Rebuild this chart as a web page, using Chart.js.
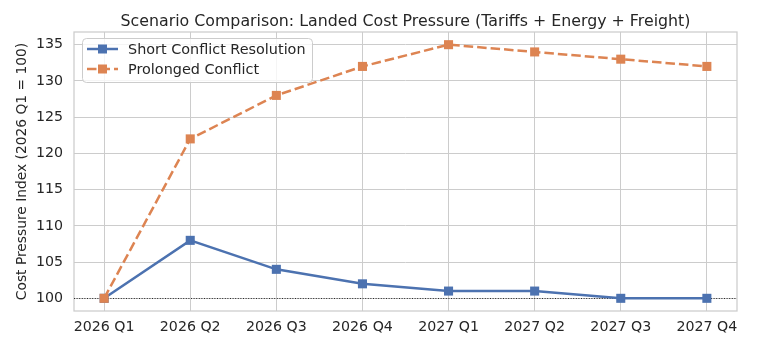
<!DOCTYPE html>
<html>
<head>
<meta charset="utf-8">
<script src="https://cdn.jsdelivr.net/npm/chart.js@4.4.0/dist/chart.umd.min.js"></script>
<style>
  html, body { margin: 0; padding: 0; background: #fff; }
  #wrap { width: 758px; height: 352px; }
</style>
</head>
<body>
<div id="wrap"><canvas id="chart" width="758" height="352"></canvas></div>
<script>
const quarters = ['2026 Q1', '2026 Q2', '2026 Q3', '2026 Q4', '2027 Q1', '2027 Q2', '2027 Q3', '2027 Q4'];
const shortConflict = [100, 108, 104, 102, 101, 101, 100, 100];
const prolongedConflict = [100, 122, 128, 132, 135, 134, 133, 132];
const yTicks = [100, 105, 110, 115, 120, 125, 130, 135];
const baseline = 100;
const chartTitle = 'Scenario Comparison: Landed Cost Pressure (Tariffs + Energy + Freight)';

const BLUE = '#4c72b0';
const ORANGE = '#dd8452';
const FONT = 'DejaVu Sans';
const TEXT = '#262626';

// title centred over the plot area (like matplotlib's ax.set_title)
const titlePlugin = {
  id: 'axTitle',
  afterDraw(chart) {
    const { ctx, chartArea } = chart;
    ctx.save();
    ctx.fillStyle = TEXT;
    ctx.font = '15.8px "' + FONT + '"';
    ctx.textAlign = 'center';
    ctx.textBaseline = 'alphabetic';
    ctx.fillText(chartTitle, (chartArea.left + chartArea.right) / 2, 26);
    ctx.restore();
  }
};

// dotted reference line at the base value + frame round the plot area
const baselinePlugin = {
  id: 'baseline',
  beforeDatasetsDraw(chart) {
    const { ctx, chartArea, scales } = chart;
    ctx.save();
    ctx.strokeStyle = '#cccccc';
    ctx.lineWidth = 1.25;
    ctx.strokeRect(chartArea.left, chartArea.top, chartArea.right - chartArea.left, chartArea.bottom - chartArea.top);

    const y = Math.round(scales.y.getPixelForValue(baseline)) + 0.5;
    ctx.strokeStyle = '#000';
    ctx.lineWidth = 0.8;
    ctx.setLineDash([1, 1.6]);
    ctx.beginPath();
    ctx.moveTo(chartArea.left, y);
    ctx.lineTo(chartArea.right, y);
    ctx.stroke();
    ctx.restore();
  }
};

// matplotlib-like legend box with line + marker samples
const legendPlugin = {
  id: 'boxLegend',
  afterDatasetsDraw(chart) {
    const { ctx, chartArea } = chart;
    const x0 = chartArea.left + 8, y0 = chartArea.top + 6;
    const w = 230, h = 44, r = 4;
    ctx.save();
    ctx.fillStyle = 'rgba(255,255,255,0.8)';
    ctx.strokeStyle = '#cccccc';
    ctx.lineWidth = 1;
    ctx.beginPath();
    ctx.roundRect(x0 + 0.5, y0 + 0.5, w, h, r);
    ctx.fill();
    ctx.stroke();
    chart.data.datasets.forEach((ds, i) => {
      const cy = y0 + 11 + i * 20;
      ctx.strokeStyle = ds.borderColor;
      ctx.lineWidth = 2.5;
      ctx.setLineDash(ds.borderDash || []);
      ctx.beginPath();
      ctx.moveTo(x0 + 5, cy);
      ctx.lineTo(x0 + 36, cy);
      ctx.stroke();
      ctx.setLineDash([]);
      ctx.fillStyle = ds.borderColor;
      ctx.fillRect(x0 + 16, cy - 4.5, 9, 9);
      ctx.fillStyle = TEXT;
      ctx.font = '14.4px "' + FONT + '"';
      ctx.textBaseline = 'middle';
      ctx.fillText(ds.label, x0 + 46, cy + 1);
    });
    ctx.restore();
  }
};

new Chart(document.getElementById('chart'), {
  type: 'line',
  plugins: [baselinePlugin, legendPlugin, titlePlugin],
  data: {
    datasets: [
      {
        label: 'Short Conflict Resolution',
        data: shortConflict.map((v, i) => ({ x: i, y: v })),
        borderColor: BLUE,
        backgroundColor: BLUE,
        borderWidth: 2.5,
        pointStyle: 'rect',
        pointRadius: 6.4,
        pointBorderWidth: 0,
        tension: 0,
        order: 1
      },
      {
        label: 'Prolonged Conflict',
        data: prolongedConflict.map((v, i) => ({ x: i, y: v })),
        borderColor: ORANGE,
        backgroundColor: ORANGE,
        borderWidth: 2.5,
        borderDash: [9.5, 4],
        pointStyle: 'rect',
        pointRadius: 6.4,
        pointBorderWidth: 0,
        tension: 0,
        order: 0
      }
    ]
  },
  options: {
    responsive: false,
    animation: false,
    devicePixelRatio: 1,
    layout: { padding: { left: 0, right: 21, top: 32, bottom: 0 } },
    plugins: {
      legend: { display: false },
      tooltip: { enabled: false },
      title: { display: false }
    },
    scales: {
      x: {
        type: 'linear',
        min: -0.35,
        max: 7.35,
        afterBuildTicks: axis => { axis.ticks = quarters.map((q, i) => ({ value: i })); },
        afterFit: axis => { axis.height = 41; },
        ticks: {
          color: TEXT,
          font: { family: FONT, size: 14.2 },
          padding: 8,
          autoSkip: false,
          maxRotation: 0,
          callback: v => quarters[v]
        },
        grid: { color: '#cccccc', lineWidth: 1, drawTicks: false },
        border: { display: false }
      },
      y: {
        min: 98.25,
        max: 136.75,
        afterBuildTicks: axis => { axis.ticks = yTicks.map(v => ({ value: v })); },
        afterFit: axis => { axis.width = 74; },
        ticks: {
          color: TEXT,
          font: { family: FONT, size: 14.2 },
          padding: 11
        },
        title: {
          display: true,
          text: 'Cost Pressure Index (2026 Q1 = 100)',
          color: TEXT,
          font: { family: FONT, size: 13.8 },
          padding: { top: 14, bottom: 0 }
        },
        grid: { color: '#cccccc', lineWidth: 1, drawTicks: false },
        border: { display: false }
      }
    }
  }
});
</script>
</body>
</html>
